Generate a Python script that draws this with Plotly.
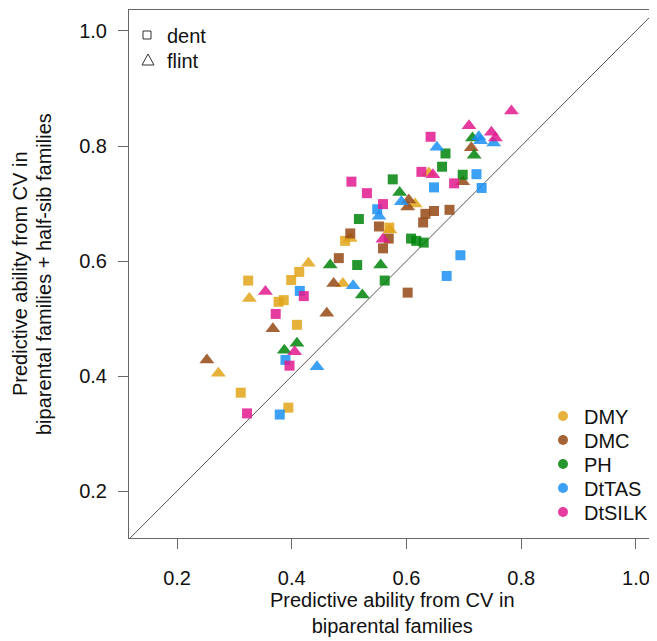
import plotly.graph_objects as go

# ---------------- data ----------------
traits = ["DMY", "DMC", "PH", "DtTAS", "DtSILK"]
colors = ["#E2A41A", "#954914", "#00840A", "#1A8FF3", "#E21A8F"]

# dent (squares)
dmy_dent_x = [0.324, 0.377, 0.386, 0.399, 0.413, 0.409, 0.311, 0.394, 0.493, 0.570]
dmy_dent_y = [0.566, 0.529, 0.532, 0.567, 0.581, 0.489, 0.371, 0.345, 0.635, 0.658]
dmc_dent_x = [0.482, 0.502, 0.552, 0.569, 0.559, 0.633, 0.648, 0.629, 0.675, 0.602]
dmc_dent_y = [0.605, 0.648, 0.660, 0.639, 0.622, 0.682, 0.687, 0.667, 0.689, 0.545]
ph_dent_x = [0.662, 0.668, 0.698, 0.576, 0.517, 0.514, 0.562, 0.608, 0.617, 0.630]
ph_dent_y = [0.764, 0.787, 0.750, 0.742, 0.673, 0.593, 0.566, 0.639, 0.635, 0.632]
tas_dent_x = [0.414, 0.389, 0.379, 0.549, 0.648, 0.722, 0.731, 0.694, 0.670]
tas_dent_y = [0.548, 0.428, 0.333, 0.690, 0.728, 0.751, 0.727, 0.610, 0.574]
silk_dent_x = [0.322, 0.372, 0.421, 0.396, 0.504, 0.531, 0.559, 0.626, 0.683, 0.642]
silk_dent_y = [0.335, 0.508, 0.539, 0.418, 0.738, 0.718, 0.699, 0.755, 0.735, 0.816]

# flint (triangles)
dmy_flint_x = [0.326, 0.429, 0.489, 0.502, 0.571, 0.615, 0.639, 0.272]
dmy_flint_y = [0.535, 0.596, 0.561, 0.639, 0.654, 0.699, 0.753, 0.405]
dmc_flint_x = [0.252, 0.367, 0.461, 0.473, 0.604, 0.602, 0.698, 0.713]
dmc_flint_y = [0.428, 0.482, 0.509, 0.561, 0.706, 0.694, 0.738, 0.797]
ph_flint_x = [0.467, 0.387, 0.409, 0.555, 0.523, 0.588, 0.715, 0.718]
ph_flint_y = [0.593, 0.445, 0.457, 0.593, 0.541, 0.719, 0.814, 0.784]
tas_flint_x = [0.444, 0.507, 0.552, 0.591, 0.653, 0.726, 0.729, 0.752]
tas_flint_y = [0.416, 0.557, 0.678, 0.703, 0.798, 0.816, 0.809, 0.805]
silk_flint_x = [0.354, 0.405, 0.559, 0.646, 0.709, 0.748, 0.755, 0.783]
silk_flint_y = [0.547, 0.442, 0.638, 0.750, 0.835, 0.824, 0.814, 0.861]

tick_vals = [0.2, 0.4, 0.6, 0.8, 1.0]
tick_text = ["0.2", "0.4", "0.6", "0.8", "1.0"]

dent = [(dmy_dent_x, dmy_dent_y), (dmc_dent_x, dmc_dent_y), (ph_dent_x, ph_dent_y),
        (tas_dent_x, tas_dent_y), (silk_dent_x, silk_dent_y)]
flint = [(dmy_flint_x, dmy_flint_y), (dmc_flint_x, dmc_flint_y), (ph_flint_x, ph_flint_y),
         (tas_flint_x, tas_flint_y), (silk_flint_x, silk_flint_y)]

# ---------------- layout geometry ----------------
OFF = 8                      # default page body margin
W, H = 657 - OFF, 641 - OFF
ML, MR, MT, MB = 129 - OFF, 1, 10 - OFF, 103
PW, PH_ = W - ML - MR, H - MT - MB
FONT = "Arial, Liberation Sans, Helvetica, sans-serif"


def px(xp):  # window pixel -> paper x
    return (xp - OFF - ML) / PW


def py(yp):  # window pixel -> paper y
    return (OFF + MT + PH_ - yp) / PH_


fig = go.Figure()

# 1:1 line
fig.add_trace(go.Scatter(x=[0, 1.2], y=[0, 1.2], mode="lines",
                         line=dict(color="#555555", width=1), showlegend=False,
                         hoverinfo="skip"))

for i, t in enumerate(traits):
    fig.add_trace(go.Scatter(x=dent[i][0], y=dent[i][1], mode="markers", name=t + " dent",
                             marker=dict(symbol="square", size=10, color=colors[i],
                                         opacity=0.85, line=dict(width=0)),
                             showlegend=False))
    fig.add_trace(go.Scatter(x=flint[i][0], y=flint[i][1], mode="markers", name=t + " flint",
                             marker=dict(symbol="triangle-up", size=13, color=colors[i],
                                         opacity=0.85, line=dict(width=0)),
                             showlegend=False))

shapes = []
annotations = []

# shape legend (top-left)
shapes.append(dict(type="rect", xref="paper", yref="paper", xsizemode="pixel", ysizemode="pixel",
                   xanchor=px(147), yanchor=py(35), x0=-4, x1=4, y0=-4, y1=4,
                   line=dict(color="#333333", width=1), fillcolor="rgba(0,0,0,0)"))
shapes.append(dict(type="path", xref="paper", yref="paper", xsizemode="pixel", ysizemode="pixel",
                   xanchor=px(148), yanchor=py(60), path="M -6 -5 L 6 -5 L 0 6 Z",
                   line=dict(color="#333333", width=1), fillcolor="rgba(0,0,0,0)"))
for lab, yy in [("dent", 36), ("flint", 61)]:
    annotations.append(dict(text=lab, xref="paper", yref="paper", x=px(165), y=py(yy),
                            xanchor="left", yanchor="middle", showarrow=False,
                            font=dict(size=20, color="#111111", family=FONT)))

# trait legend (bottom-right)
leg_y = [416, 440, 464, 488, 512]
for i, t in enumerate(traits):
    shapes.append(dict(type="circle", xref="paper", yref="paper", xsizemode="pixel",
                       ysizemode="pixel", xanchor=px(563), yanchor=py(leg_y[i]),
                       x0=-5, x1=5, y0=-5, y1=5, fillcolor=colors[i], opacity=0.85,
                       line=dict(width=0)))
    annotations.append(dict(text=t, xref="paper", yref="paper", x=px(582), y=py(leg_y[i] + 1),
                            xanchor="left", yanchor="middle", showarrow=False,
                            font=dict(size=20, color="#111111", family=FONT)))

# axis titles
annotations.append(dict(text="Predictive ability from CV in<br>biparental families",
                        xref="paper", yref="paper", x=0.5, y=0, yanchor="top", xanchor="center",
                        yshift=-49, showarrow=False,
                        font=dict(size=20, color="#111111", family=FONT)))
for line_text, xc in [("Predictive ability from CV in", 20),
                      ("biparental families + half-sib families", 44)]:
    annotations.append(dict(text=line_text, xref="paper", yref="paper", x=px(xc), y=py(274),
                            xanchor="center", yanchor="middle", textangle=-90,
                            showarrow=False,
                            font=dict(size=20, color="#111111", family=FONT)))

axis_common = dict(showgrid=False, zeroline=False, showline=True, linecolor="#666666",
                   linewidth=1, mirror=True, ticks="outside", ticklen=10, tickcolor="#666666",
                   tickwidth=1, tickvals=tick_vals, ticktext=tick_text,
                   tickfont=dict(size=20, color="#111111", family=FONT))

fig.update_layout(
    width=W, height=H, autosize=False,
    margin=dict(l=ML, r=MR, t=MT, b=MB),
    paper_bgcolor="white", plot_bgcolor="white",
    xaxis=dict(range=[0.1162, 1.035], ticklabelstandoff=12, **axis_common),
    yaxis=dict(range=[0.1183, 1.0365], ticklabelstandoff=7, **axis_common),
    shapes=shapes, annotations=annotations,
    showlegend=False,
)

fig.write_html("out.html")
